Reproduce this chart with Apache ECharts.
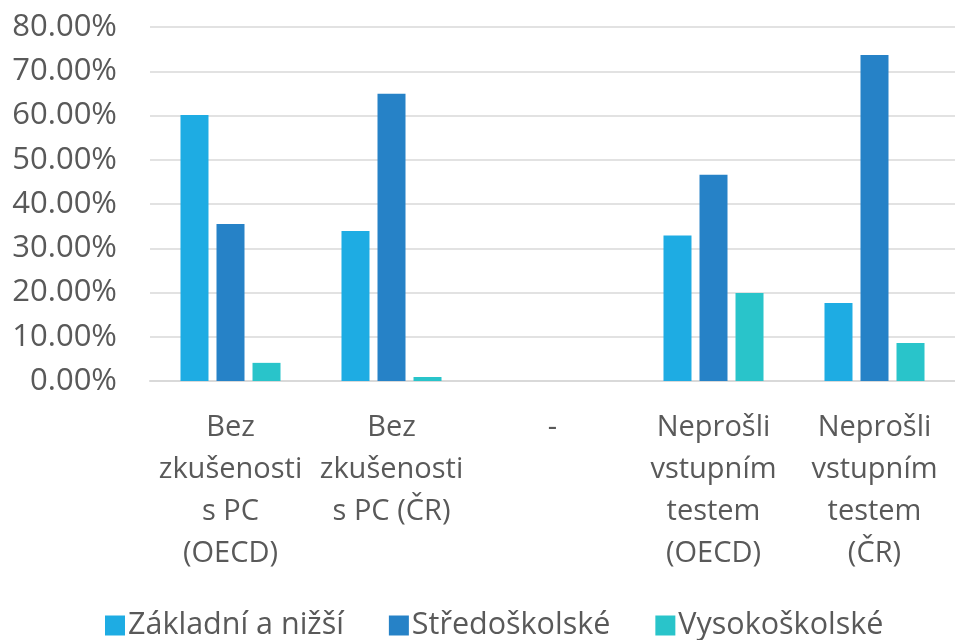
<!DOCTYPE html>
<html>
<head>
<meta charset="utf-8">
<script src="https://cdn.jsdelivr.net/npm/echarts@6/dist/echarts.min.js"></script>
<style>
html,body{margin:0;padding:0;background:#fff;}
#chart{width:955px;height:640px;}
</style>
</head>
<body>
<div id="chart"></div>
<script>
const categories = [
  "Bez\nzkušenosti\ns PC\n(OECD)",
  "Bez\nzkušenosti\ns PC (ČR)",
  "-",
  "Neprošli\nvstupním\ntestem\n(OECD)",
  "Neprošli\nvstupním\ntestem\n(ČR)"
];
const seriesNames = ["Základní a nižší", "Středoškolské", "Vysokoškolské"];
const zakladni = [60.1, 33.9, 0, 32.9, 17.6];
const stredoskolske = [35.5, 64.9, 0, 46.6, 73.7];
const vysokoskolske = [4.1, 0.9, 0, 19.9, 8.6];
const colors = ["#1eace3", "#2682c7", "#29c4ca"];

const chart = echarts.init(document.getElementById('chart'), null, {renderer: 'canvas'});
const font = "'Open Sans', sans-serif";
const dataSets = [zakladni, stredoskolske, vysokoskolske];
chart.setOption({
  animation: false,
  color: colors,
  grid: {left: 150, width: 810, top: 27, bottom: 259, containLabel: false},
  legend: {
    left: 100, top: 605,
    itemWidth: 20, itemHeight: 20, itemGap: 45,
    icon: 'rect',
    textStyle: {fontFamily: font, fontSize: 30.5, color: '#595959', padding: [0, 0, 0, -2]},
    data: seriesNames
  },
  xAxis: {
    type: 'category',
    data: categories,
    axisLine: {lineStyle: {color: '#d9d9d9', width: 2}},
    axisTick: {show: false},
    axisLabel: {interval: 0, fontFamily: font, fontSize: 29, color: '#595959', lineHeight: 42, margin: 26}
  },
  yAxis: {
    type: 'value',
    min: 0, max: 80, interval: 10,
    axisLine: {show: false},
    axisTick: {show: false},
    splitLine: {lineStyle: {color: '#d9d9d9', width: 1.5}},
    axisLabel: {fontFamily: font, fontSize: 31, color: '#595959', margin: 33,
      formatter: v => v.toFixed(2) + '%'}
  },
  series: dataSets.map((d, i) => ({
    name: seriesNames[i],
    type: 'bar',
    data: d,
    barWidth: 28,
    barGap: '28.6%',
    itemStyle: {color: colors[i]}
  }))
});
</script>
</body>
</html>
